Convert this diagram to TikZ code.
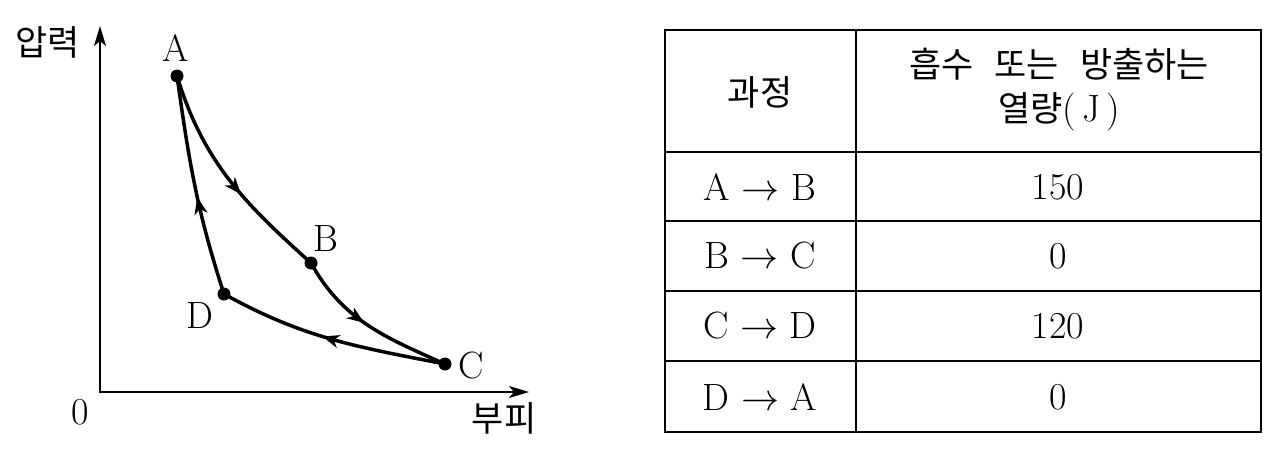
\RequirePackage{fix-cm}
\documentclass[tikz,border=0pt]{standalone}
\usepackage{fontspec}
\newfontfamily\kr{Noto Sans CJK KR}
\usetikzlibrary{arrows.meta,decorations.markings}
\begin{document}
\begin{tikzpicture}[x=1pt,y=1pt,
  lat/.style={font=\fontsize{38}{44}\selectfont, inner sep=0pt},
  kor/.style={font=\fontsize{35}{44}\selectfont\kr, inner sep=0pt},
  axis/.style={line width=2pt},
  curve/.style={line width=3.5pt},
  dot/.style={circle,fill,inner sep=0pt,minimum size=13pt},
  midarrow/.style={postaction={decorate},decoration={markings,mark=at position #1 with {\arrow{Stealth[length=17pt,width=13pt,inset=5pt]}}}},
  gridline/.style={line width=2pt}]
\useasboundingbox (0,0) rectangle (1280,-463);
% axes
\coordinate (O) at (100,-392);
\coordinate (ytip) at (100,-26);
\coordinate (xtip) at (529,-392);
\draw[axis,{Stealth[length=20pt,width=12pt,inset=5pt]}-{Stealth[length=20pt,width=12pt,inset=5pt]}] (ytip) -- (O) -- (xtip);
\node[kor] (plab) at (48,-42) {압력};
\node[kor] (vlab) at (504,-418) {부피};
\node[lat] (zero) at (80,-412) {0};
% state points
\node[dot] (A) at (177,-76) {};
\node[dot] (B) at (311,-263) {};
\node[dot] (C) at (445,-364) {};
\node[dot] (D) at (224,-294) {};
\node[lat] (Alab) at (176,-48) {A};
\node[lat] (Blab) at (326,-239) {B};
\node[lat] (Clab) at (471,-366) {C};
\node[lat] (Dlab) at (200,-316) {D};
% cycle
\draw[curve,midarrow=0.58] (A.center) to[out=-73,in=138] (B.center);
\draw[curve,midarrow=0.47] (B.center) to[out=-61,in=156] (C.center);
\draw[curve,midarrow=0.54] (C.center) to[out=169,in=-29] (D.center);
\draw[curve,midarrow=0.45] (D.center) to[out=108,in=-82] (A.center);
% table
\draw[gridline] (665,-30) rectangle (1261,-432);
\draw[gridline] (856,-30) -- (856,-432);
\foreach \yy in {152,221,291,361} \draw[gridline] (665,-\yy) -- (1261,-\yy);
\node[kor] (h1) at (760,-92) {과정};
\node[align=center, inner sep=0pt, font=\fontsize{38}{44}\selectfont] (h2) at (1059,-90)
  {{\kr\fontsize{35}{44}\selectfont 흡수\hspace{0.6em}또는\hspace{0.6em}방출하는}\\{\kr\fontsize{35}{44}\selectfont 열량}(\,J\,)};
\node[lat] (r1a) at (760,-187) {A $\rightarrow$ B};
\node[lat] (r1b) at (1058,-187) {150};
\node[lat] (r2a) at (760,-256) {B $\rightarrow$ C};
\node[lat] (r2b) at (1058,-256) {0};
\node[lat] (r3a) at (760,-326) {C $\rightarrow$ D};
\node[lat] (r3b) at (1058,-326) {120};
\node[lat] (r4a) at (760,-397) {D $\rightarrow$ A};
\node[lat] (r4b) at (1058,-397) {0};
\end{tikzpicture}
\end{document}
